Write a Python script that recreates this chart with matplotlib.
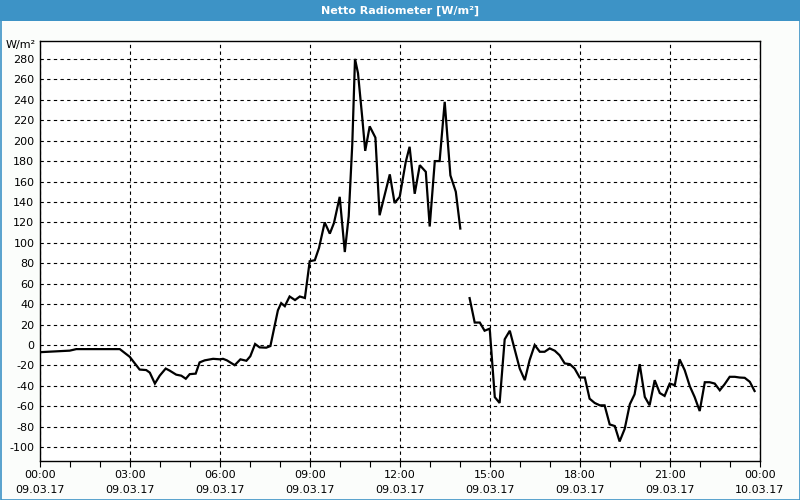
import numpy as np
import matplotlib
matplotlib.use("Agg")
import matplotlib.pyplot as plt
from matplotlib.patches import Rectangle

# ---- data (hours since 09.03.17 00:00, W/m²) ----
hours = [0.0, 0.99, 1.21, 2.66, 2.99, 3.32, 3.54, 3.66, 3.83, 3.99, 4.19, 4.32, 4.54, 4.71,
         4.86, 4.99, 5.19, 5.32, 5.49, 5.77, 6.0, 6.1, 6.23, 6.49, 6.68, 6.88, 7.01, 7.17,
         7.32, 7.54, 7.68, 7.93, 8.04, 8.16, 8.32, 8.5, 8.66, 8.83, 8.99, 9.16, 9.3, 9.49,
         9.66, 9.8, 9.99, 10.16, 10.29, 10.41, 10.5, 10.6, 10.74, 10.84, 10.99, 11.18, 11.32,
         11.5, 11.66, 11.82, 11.99, 12.19, 12.32, 12.49, 12.66, 12.86, 12.99, 13.16, 13.32,
         13.49, 13.68, 13.86, 14.01,
         14.16,
         14.32, 14.49, 14.66, 14.82, 14.99, 15.16, 15.32, 15.49, 15.66, 15.99, 16.16, 16.32,
         16.49, 16.66, 16.82, 16.99, 17.16, 17.32, 17.49, 17.66, 17.82, 17.99, 18.16, 18.32,
         18.49, 18.66, 18.82, 18.99, 19.16, 19.32, 19.49, 19.66, 19.82, 19.99, 20.16, 20.32,
         20.49, 20.66, 20.82, 20.99, 21.16, 21.32, 21.49, 21.66, 21.82, 21.99, 22.16, 22.32,
         22.49, 22.66, 22.82, 22.99, 23.16, 23.32, 23.49, 23.66, 23.82]
values = [-7, -5.5, -4, -4, -11.5, -24, -24.5, -27, -37.7, -30, -23, -25, -29, -30,
          -33, -28.5, -28, -17, -15, -13.5, -14, -13.5, -15, -19.7, -14, -15.4, -11, 1,
          -2.3, -2.6, -1, 34, 41, 38, 47.5, 44, 47.5, 46, 82, 83, 95, 120,
          109, 119.5, 145, 91, 126, 197, 280, 266, 223, 190, 214, 203, 127,
          148, 167, 139, 145, 179, 194, 148, 176, 169.5, 116, 180, 180,
          238, 166, 150, 114,
          np.nan,
          45.9, 22, 22, 14, 16, -51, -56.7, 5.6, 14, -23, -34.4, -14.8,
          0, -6.6, -6.6, -3.3, -5.6, -10, -18, -18.7, -23, -31.8, -31.8, -52.5,
          -56.7, -59, -59, -77.7, -79.3, -94.4, -82, -58, -48.2, -18.7, -50.8, -59,
          -34.4, -47, -49.8, -37.7, -39.3, -14, -24.6, -40.3, -50.8, -64.6, -36.4, -36.4,
          -37.7, -44.3, -38.4, -31.1, -31.1, -31.8, -32.1, -36, -45]

xtick_pos = [0, 3, 6, 9, 12, 15, 18, 21, 24]
xtick_labels = ["00:00\n09.03.17", "03:00\n09.03.17", "06:00\n09.03.17", "09:00\n09.03.17",
                "12:00\n09.03.17", "15:00\n09.03.17", "18:00\n09.03.17", "21:00\n09.03.17",
                "00:00\n10.03.17"]
yticks = list(range(-100, 281, 20))
title = "Netto Radiometer [W/m²]"
unit = "W/m²"

blue = "#3d93c6"

fig = plt.figure(figsize=(8, 5), dpi=100, facecolor="#fbfdfb")
# title bar
fig.patches.append(Rectangle((0, 1 - 21 / 500), 1, 21 / 500, transform=fig.transFigure,
                             facecolor=blue, edgecolor="none", zorder=0))
# frame border
fig.patches.append(Rectangle((0.5 / 800, 0.5 / 500), 1 - 1 / 800, 1 - 1 / 500,
                             transform=fig.transFigure, facecolor="none",
                             edgecolor=blue, linewidth=1.2, zorder=5))
fig.text(0.5, 1 - 10.5 / 500, title, color="white", fontsize=8, fontweight="bold",
         ha="center", va="center")

ax = fig.add_axes([40 / 800, 1 - 460.5 / 500, 720 / 800, 420 / 500])
ax.set_facecolor("white")
ax.plot(hours, values, color="black", linewidth=1.6, solid_joinstyle="miter")

ax.set_xlim(0, 24)
ax.set_ylim(-113, 298)
ax.set_xticks(xtick_pos)
ax.set_xticklabels(xtick_labels, fontsize=8, linespacing=1.6)
ax.set_xticks(np.arange(0, 25, 1), minor=True)
ax.set_yticks(yticks)
ax.set_yticklabels([str(v) for v in yticks], fontsize=8)

ax.tick_params(axis="x", which="both", direction="out", length=4, width=0.8, pad=3, colors="black")
ax.tick_params(axis="y", length=0, pad=4)
ax.grid(True, which="major", color="black", linestyle=(0, (3, 3)), linewidth=0.8)
for s in ax.spines.values():
    s.set_color("black")
    s.set_linewidth(1.0)

fig.text(36 / 800, 1 - 45 / 500, unit, fontsize=8, ha="right", va="center")

fig.savefig("out.png", dpi=100, facecolor=fig.get_facecolor())
